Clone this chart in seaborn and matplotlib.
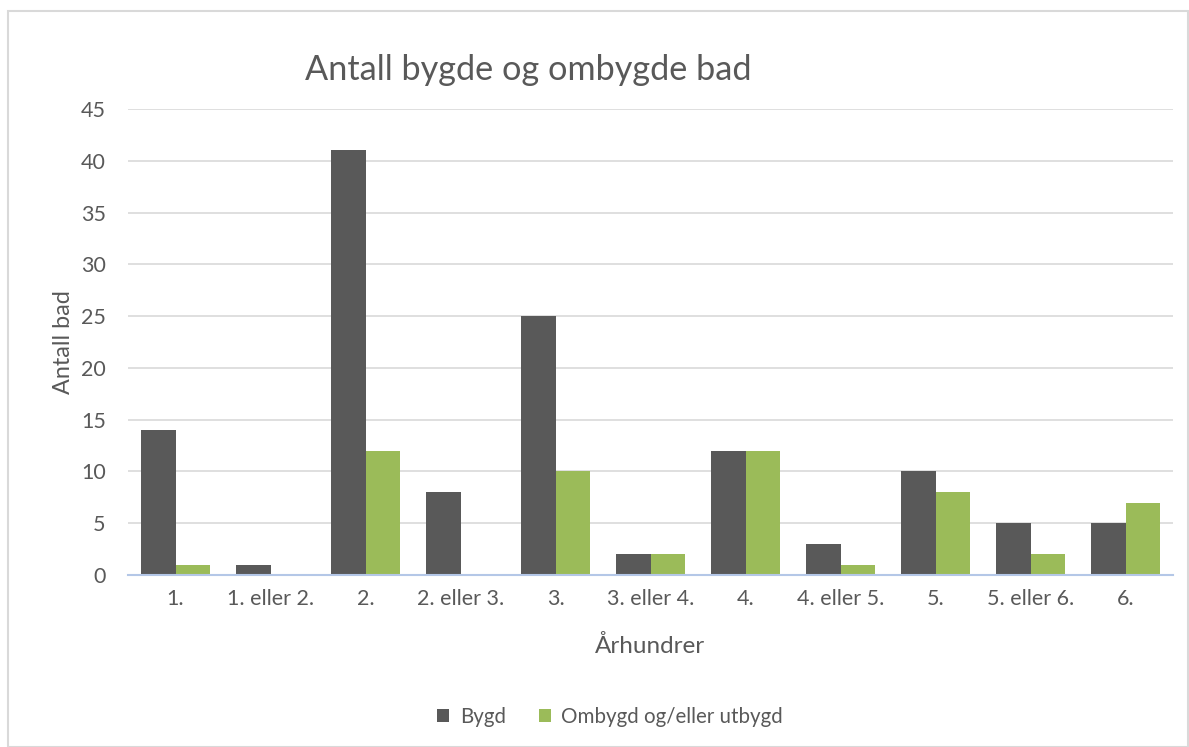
import matplotlib
matplotlib.use("Agg")
import matplotlib.pyplot as plt
import seaborn as sns
import pandas as pd
from matplotlib.patches import Rectangle, Patch

categories = ["1.", "1. eller 2.", "2.", "2. eller 3.", "3.", "3. eller 4.", "4.",
              "4. eller 5.", "5.", "5. eller 6.", "6."]
bygd = [14, 1, 41, 8, 25, 2, 12, 3, 10, 5, 5]
ombygd = [1, 0, 12, 0, 10, 2, 12, 1, 8, 2, 7]
series_names = ["Bygd", "Ombygd og/eller utbygd"]
colors = ["#595959", "#9BBB59"]
yticks = [0, 5, 10, 15, 20, 25, 30, 35, 40, 45]

df = pd.DataFrame({
    "Århundrer": categories * 2,
    "Antall": bygd + ombygd,
    "Serie": [series_names[0]] * len(categories) + [series_names[1]] * len(categories),
})

sns.set_theme(style="white")
plt.rcParams["font.family"] = ["Lato", "DejaVu Sans"]
text_color = "#595959"

fig = plt.figure(figsize=(11.89, 7.47), dpi=100)
ax = fig.add_axes([128/1189, 1-575/747, (1173-128)/1189, (575-109)/747])

sns.barplot(data=df, x="Århundrer", y="Antall", hue="Serie", palette=colors,
            saturation=1, width=0.72, linewidth=0, ax=ax, legend=False,
            order=categories, hue_order=series_names)

ax.set_ylim(0, 45)
ax.set_yticks(yticks)
ax.set_xlim(-0.5, len(categories) - 0.5)
ax.yaxis.grid(True, color="#D9D9D9", linewidth=1.2)
ax.set_axisbelow(True)
for s in ["top", "right", "left"]:
    ax.spines[s].set_visible(False)
ax.spines["bottom"].set_color("#B4C7E7")
ax.spines["bottom"].set_linewidth(1.5)
ax.tick_params(axis="both", length=0, labelsize=15.5, colors=text_color)
ax.tick_params(axis="x", pad=10)
ax.tick_params(axis="y", pad=16)
ax.set_xlabel("Århundrer", fontsize=17.5, color=text_color, labelpad=19)
ax.set_ylabel("Antall bad", fontsize=16.8, color=text_color, labelpad=5)

fig.text(528/1189, 1-70/747, "Antall bygde og ombygde bad", fontsize=24.7,
         color=text_color, ha="center", va="center")

handles = [Patch(facecolor=c, edgecolor="none") for c in colors]
fig.legend(handles, series_names, loc="center", bbox_to_anchor=(610/1189, 1-717/747),
           ncol=2, frameon=False, fontsize=14.8, labelcolor=text_color,
           handlelength=0.6, handleheight=0.6, handletextpad=0.5, columnspacing=1.6)

fig.patches.append(Rectangle((8/1189, 0), 1 - 8/1189 - 1/1189, 1 - 10/747 - 0.001,
                             transform=fig.transFigure, fill=False,
                             edgecolor="#D9D9D9", linewidth=1.5))

fig.savefig("out.png", dpi=100)
